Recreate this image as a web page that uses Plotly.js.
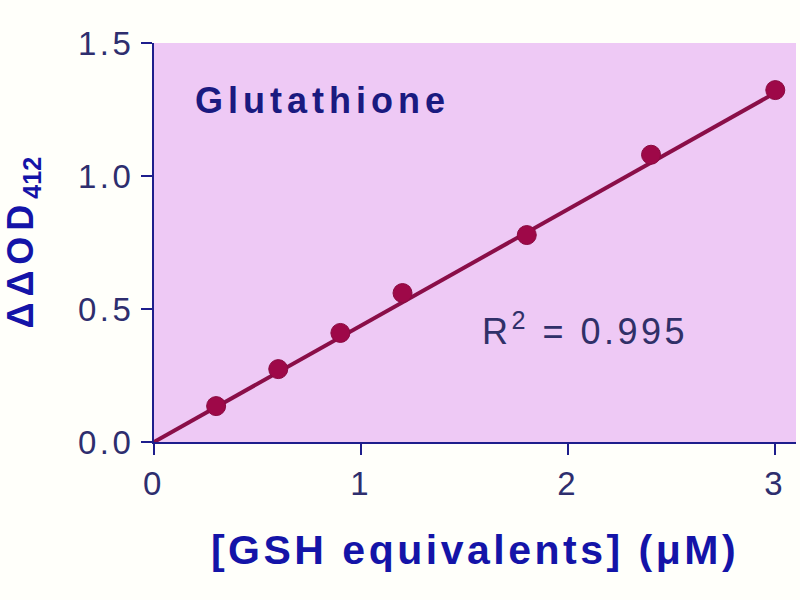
<!DOCTYPE html>
<html>
<head>
<meta charset="utf-8">
<script src="https://cdn.plot.ly/plotly-3.0.1.min.js"></script>
<style>
  body { margin: 0; background: #FFFFFA; }
  #chart { width: 800px; height: 600px; }
  .xtick text, .ytick text { letter-spacing: 3.5px; }
  .xtitle { letter-spacing: 3.5px; }
  .ytitle { letter-spacing: 6px; }
  .annotation-text { letter-spacing: 5px; }
</style>
</head>
<body>
<div id="chart"></div>
<script>
// Measured standard points
const concX = [0.3, 0.6, 0.9, 1.2, 1.8, 2.4, 3.0];
const odY = [0.135, 0.274, 0.41, 0.56, 0.778, 1.08, 1.323];
// Linear fit line (through origin)
const fitX = [0, 3.0];
const fitY = [0, 1.313];
const xTickVals = [0, 1, 2, 3];
const xTickText = ['0', '1', '2', '3'];
const yTickVals = [0, 0.5, 1.0, 1.5];
const yTickText = ['0.0', '0.5', '1.0', '1.5'];

const navy = '#1E1E8C';
const tickColor = '#2E2E6E';
const titleBlue = '#1414A8';
const markColor = '#9E0848';

const traces = [
  {
    x: fitX, y: fitY, mode: 'lines', type: 'scatter',
    line: { color: '#8A0E48', width: 4 }, hoverinfo: 'skip', showlegend: false
  },
  {
    x: concX, y: odY, mode: 'markers', type: 'scatter',
    marker: { color: markColor, size: 19, line: { color: '#8A0A40', width: 1 } },
    showlegend: false
  }
];

const layout = {
  width: 800, height: 600,
  paper_bgcolor: '#FFFFFA',
  plot_bgcolor: '#EEC9F5',
  margin: { l: 154, r: 4, t: 43, b: 158 },
  font: { family: 'Liberation Sans, Arial, sans-serif', color: tickColor },
  xaxis: {
    range: [0, 3.1], tickvals: xTickVals, ticktext: xTickText,
    showline: true, linecolor: navy, linewidth: 2,
    ticks: 'outside', ticklen: 11, tickwidth: 2, tickcolor: navy,
    showgrid: false, zeroline: false,
    tickfont: { size: 33, color: tickColor },
    title: { text: '[GSH equivalents] (μM)', font: { size: 41, color: titleBlue, weight: 'bold' }, standoff: 35 }
  },
  yaxis: {
    range: [0, 1.5], tickvals: yTickVals, ticktext: yTickText,
    showline: true, linecolor: navy, linewidth: 2,
    ticks: 'outside', ticklen: 11, tickwidth: 2, tickcolor: navy,
    showgrid: false, zeroline: false,
    tickfont: { size: 33, color: tickColor },
    title: { text: 'ΔΔOD<sub><span style="letter-spacing:0px">412</span></sub>', font: { size: 36, color: titleBlue, weight: 'bold' }, standoff: 38 }
  },
  annotations: [
    {
      x: 0.19, y: 1.285, xref: 'x', yref: 'y', xanchor: 'left', yanchor: 'middle',
      text: '<b>Glutathione</b>', showarrow: false,
      font: { size: 36, color: '#1A1A80' }
    },
    {
      x: 2.08, y: 0.425, xref: 'x', yref: 'y', xanchor: 'center', yanchor: 'middle',
      text: '<span style="letter-spacing:3.5px">R<sup>2</sup> = 0.995</span>', showarrow: false,
      font: { size: 36, color: '#303068' }
    }
  ]
};

Plotly.newPlot('chart', traces, layout, { displayModeBar: false, staticPlot: true });
</script>
</body>
</html>
